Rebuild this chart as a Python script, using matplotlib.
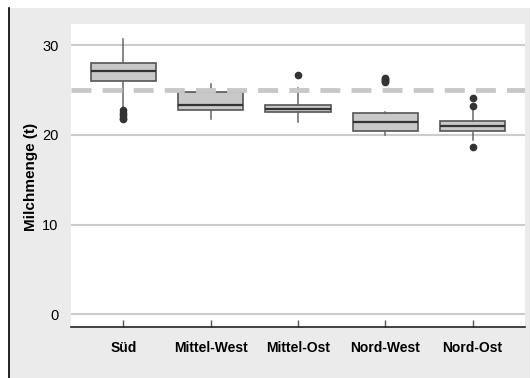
import matplotlib
matplotlib.use("Agg")
import matplotlib.pyplot as plt
from matplotlib.patches import Rectangle
from matplotlib.lines import Line2D

plt.rcParams["font.family"] = ["Liberation Sans", "DejaVu Sans"]

# Data
regions = ["Süd", "Mittel-West", "Mittel-Ost", "Nord-West", "Nord-Ost"]
medians = [27.15, 23.35, 22.94, 21.49, 21.0]
q1s     = [26.07, 22.80, 22.54, 20.48, 20.45]
q3s     = [28.08, 24.80, 23.39, 22.50, 21.53]
wh_lo   = [23.1, 21.8, 21.49, 20.0, 19.44]
wh_hi   = [30.7, 25.66, 25.2, 22.55, 22.8]
fliers  = [[22.8, 22.5, 22.2, 21.95, 21.8],
           [],
           [26.67],
           [26.35, 26.25, 26.15, 26.05, 25.95],
           [24.1, 23.2, 18.7]]
reference_level = 25
yticks = [0, 10, 20, 30]

stats = []
for i, name in enumerate(regions):
    stats.append(dict(label=name, med=medians[i], q1=q1s[i], q3=q3s[i],
                      whislo=wh_lo[i], whishi=wh_hi[i], fliers=fliers[i]))

fig = plt.figure(figsize=(5.31, 3.78), dpi=100)
fig.patch.set_facecolor("white")

# grey frame with black left rule
W, H = 531, 378
fig.patches.append(Rectangle((8 / W, 0), (530 - 8) / W, (H - 8) / H,
                             transform=fig.transFigure, facecolor="#ebebeb",
                             edgecolor="none", zorder=-2))
fig.lines.append(Line2D([8.5 / W, 8.5 / W], [0, (H - 8) / H], transform=fig.transFigure,
                        color="black", lw=1.2, zorder=-1))

ax = fig.add_axes([71 / W, (H - 327) / H, 454 / W, 303 / H])
ax.set_zorder(3)
ax.set_facecolor("white")

for y in yticks:
    ax.axhline(y, color="#cccccc", lw=1.5, zorder=1)

ax.bxp(stats, positions=range(len(regions)), widths=0.75, patch_artist=True,
       showcaps=False,
       boxprops=dict(facecolor="#c8c8c8", edgecolor="#555555", lw=1.2),
       medianprops=dict(color="#333333", lw=1.6),
       whiskerprops=dict(color="#666666", lw=1.1),
       flierprops=dict(marker="o", markerfacecolor="#333333", markeredgecolor="#333333",
                       markersize=4.5),
       zorder=2)

ax.axhline(reference_level, color="#c8c8c8", lw=3.5, dashes=(4.1, 2.3), zorder=5)

ax.set_xlim(-0.6, 4.6)
ax.set_ylim(-1.45, 32.4)
ax.set_yticks(yticks)
ax.set_xticks(range(len(regions)))
ax.set_xticklabels(regions, fontsize=10, fontweight="bold")
ax.tick_params(axis="y", length=0, labelsize=10.5, pad=9)
ax.tick_params(axis="x", direction="in", length=5, color="#555555", width=1, pad=10)

for s in ["top", "right", "left"]:
    ax.spines[s].set_visible(False)
ax.spines["bottom"].set_color("#222222")
ax.spines["bottom"].set_linewidth(1.2)

fig.text(31 / W, 1 - 177 / H, "Milchmenge (t)", rotation=90, fontsize=11,
         fontweight="bold", ha="center", va="center")

fig.savefig("out.png", dpi=100)
